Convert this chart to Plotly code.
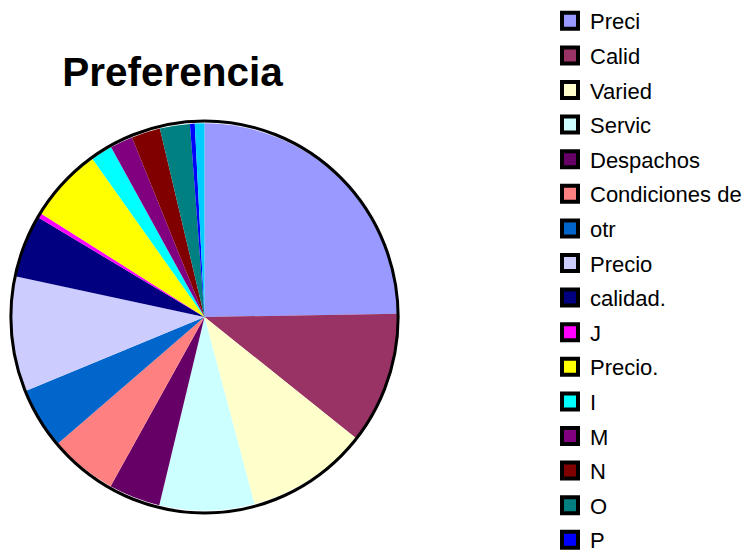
import plotly.graph_objects as go

# Preference shares per category (percent)
categories = ["Preci", "Calid", "Varied", "Servic", "Despachos", "Condiciones de",
              "otr", "Precio", "calidad.", "J", "Precio.", "I", "M", "N", "O", "P", "Q"]
shares = [24.7, 11.0, 10.1, 7.9, 4.3, 5.6, 5.1, 9.6, 5.2, 0.4, 6.2, 1.8, 1.9, 2.4, 2.5, 0.4, 0.8]
colors = ["#9999FF", "#993366", "#FFFFCC", "#CCFFFF", "#660066", "#FF8080",
          "#0066CC", "#CCCCFF", "#000080", "#FF00FF", "#FFFF00", "#00FFFF",
          "#800080", "#800000", "#008080", "#0000FF", "#00CCFF"]

W, H = 747, 553
cx, cy, r = 207, 317, 196  # pie centre and radius in pixels
dom_x = [(cx - r) / W, (cx + r) / W]
dom_y = [(H - (cy + r)) / H, (H - (cy - r)) / H]

fig = go.Figure()
fig.add_trace(go.Pie(
    labels=categories, values=shares, sort=False, direction="clockwise",
    rotation=0, textinfo="none", showlegend=False,
    marker=dict(colors=colors, line=dict(width=0)),
    domain=dict(x=dom_x, y=dom_y),
))

# Legend entries with black-framed square swatches
for i, (name, col) in enumerate(zip(categories, colors)):
    fig.add_trace(go.Scatter(
        x=[None], y=[None], mode="markers", name=name,
        legendgroup=f"g{i}", showlegend=(i < 16),
        marker=dict(symbol="square", size=16, color=col,
                    line=dict(color="black", width=4)),
    ))

fig.add_shape(type="circle", xref="paper", yref="paper",
              x0=dom_x[0], x1=dom_x[1], y0=dom_y[0], y1=dom_y[1],
              line=dict(color="black", width=3), layer="above")

fig.update_layout(
    width=W, height=H, margin=dict(l=0, r=0, t=0, b=0),
    paper_bgcolor="white", plot_bgcolor="white",
    xaxis=dict(visible=False), yaxis=dict(visible=False),
    title=dict(text="<b>Preferencia</b>", x=172.5 / W, xanchor="center",
               y=0.87, yanchor="middle", yref="container",
               font=dict(family="Liberation Sans, Arial", size=40.5, color="black")),
    legend=dict(x=557 / W, xanchor="left", y=0.988, yanchor="top",
                font=dict(family="Liberation Sans, Arial", size=22, color="black"),
                tracegroupgap=3, itemsizing="trace", bgcolor="rgba(0,0,0,0)",
                maxheight=900),
    showlegend=True,
)

fig.write_html("out.html")
